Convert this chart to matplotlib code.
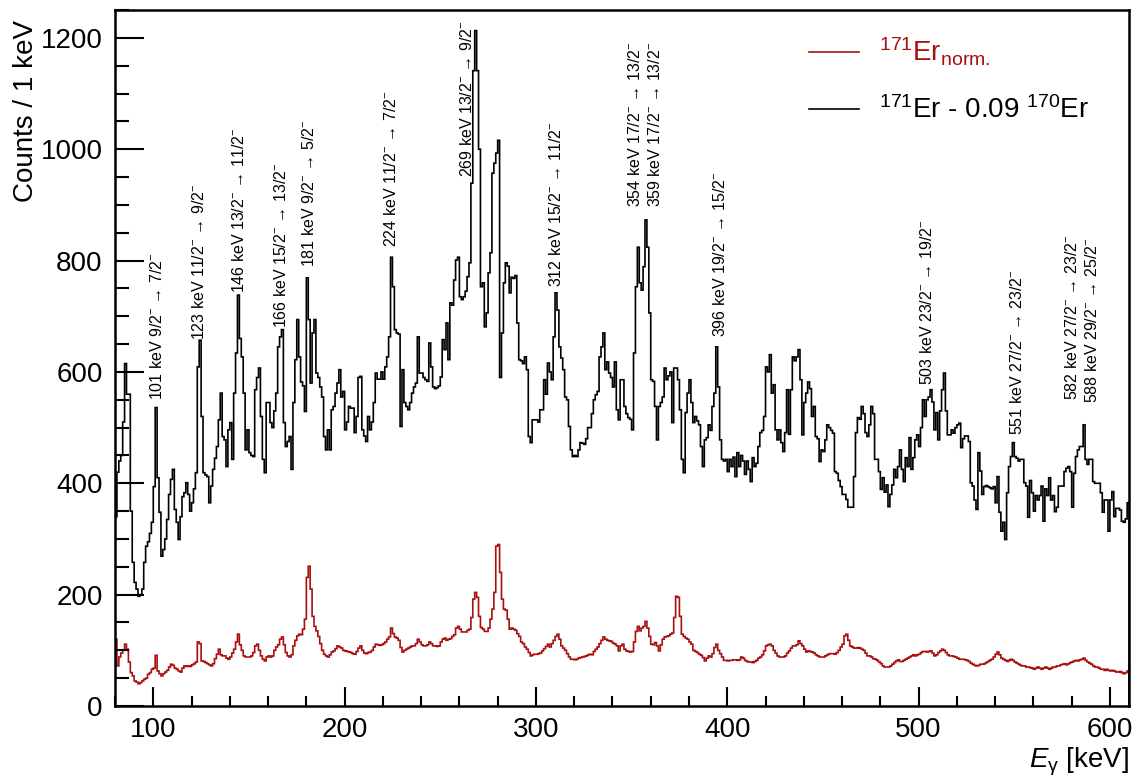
import numpy as np
import matplotlib
matplotlib.use("Agg")
import matplotlib.pyplot as plt
from matplotlib.lines import Line2D
from matplotlib.ticker import MultipleLocator

plt.rcParams['font.family'] = ['Liberation Sans', 'DejaVu Sans']
plt.rcParams['mathtext.fontset'] = 'custom'
plt.rcParams['mathtext.rm'] = 'Liberation Sans'
plt.rcParams['mathtext.it'] = 'Liberation Sans:italic'
plt.rcParams['mathtext.bf'] = 'Liberation Sans:bold'

# 1 keV bins from 80 to 610 keV
e_lo, e_hi = 80, 610
edges = np.arange(e_lo, e_hi + 1)

# 171Er - 0.09 170Er (background subtracted), counts per bin
er171_sub = [
    340, 420, 440, 450, 510, 615, 560, 560, 350, 258,   # 80
    222, 210, 197, 200, 210, 258, 287, 295, 310, 330,   # 90
    394, 536, 410, 348, 269, 281, 300, 335, 380, 407,   # 100
    425, 353, 330, 299, 340, 376, 383, 401, 380, 350,   # 110
    365, 390, 419, 609, 657, 520, 419, 415, 412, 365,   # 120
    395, 425, 445, 466, 514, 562, 484, 478, 430, 496,   # 130
    509, 443, 562, 634, 738, 660, 627, 562, 460, 496,   # 140
    455, 450, 448, 568, 590, 607, 520, 443, 419, 545,   # 150
    545, 509, 500, 530, 562, 645, 663, 676, 509, 466,   # 160
    475, 484, 425, 545, 622, 694, 627, 582, 575, 529,   # 170
    769, 694, 580, 670, 694, 598, 590, 573, 555, 484,   # 180
    460, 496, 460, 532, 538, 562, 580, 604, 555, 565,   # 190
    496, 510, 538, 535, 535, 491, 520, 590, 592, 496,   # 200
    485, 475, 520, 496, 510, 545, 598, 587, 587, 600,   # 210
    587, 609, 627, 663, 806, 753, 676, 670, 668, 502,   # 220
    604, 545, 538, 532, 545, 562, 573, 580, 663, 598,   # 230
    598, 590, 586, 583, 652, 609, 573, 570, 572, 575,   # 240
    591, 658, 640, 688, 622, 724, 720, 765, 801, 806,   # 250
    735, 730, 735, 745, 771, 796, 939, 1141, 1213, 1141,  # 260
    1000, 753, 760, 681, 706, 778, 814, 957, 975, 993,  # 270
    1016, 590, 670, 760, 796, 790, 742, 770, 768, 773,  # 280
    688, 622, 620, 615, 627, 604, 484, 473, 514, 514,   # 290
    514, 510, 532, 532, 586, 560, 616, 600, 586, 663,   # 300
    742, 711, 645, 625, 604, 555, 550, 502, 460, 448,   # 310
    450, 448, 460, 473, 472, 470, 480, 500, 500, 525,   # 320
    550, 559, 565, 627, 645, 670, 604, 618, 598, 590,   # 330
    573, 618, 532, 514, 586, 586, 538, 525, 518, 515,   # 340
    496, 634, 753, 824, 760, 747, 789, 873, 824, 706,   # 350
    586, 583, 538, 478, 538, 545, 555, 607, 586, 593,   # 360
    600, 509, 607, 607, 586, 532, 443, 419, 527, 562,   # 370
    586, 545, 509, 520, 512, 505, 466, 430, 478, 482,   # 380
    505, 495, 538, 562, 645, 573, 478, 443, 440, 443,   # 390
    421, 443, 430, 447, 412, 455, 430, 450, 440, 416,   # 400
    440, 425, 403, 446, 430, 436, 466, 491, 495, 520,   # 410
    609, 600, 631, 562, 577, 496, 478, 496, 473, 457,   # 420
    491, 568, 488, 568, 627, 620, 627, 640, 586, 487,   # 430
    545, 562, 582, 570, 520, 538, 484, 480, 439, 460,   # 440
    457, 478, 505, 500, 495, 490, 421, 418, 405, 394,   # 450
    380, 380, 371, 357, 357, 357, 412, 491, 518, 515,   # 460
    538, 525, 491, 484, 505, 538, 525, 443, 443, 421,   # 470
    389, 410, 384, 397, 358, 380, 397, 425, 410, 430,   # 480
    460, 425, 403, 446, 430, 482, 425, 446, 478, 487,   # 490
    466, 500, 550, 520, 550, 555, 568, 546, 496, 527,   # 500
    478, 530, 568, 598, 530, 487, 487, 496, 490, 500,   # 510
    505, 508, 464, 480, 485, 485, 475, 401, 395, 370,   # 520
    353, 455, 422, 380, 394, 396, 394, 392, 390, 394,   # 530
    365, 412, 348, 314, 330, 299, 383, 430, 448, 473,   # 540
    448, 445, 440, 443, 443, 401, 395, 339, 405, 383,   # 550
    350, 378, 370, 378, 395, 332, 390, 378, 410, 370,   # 560
    378, 349, 357, 395, 395, 395, 421, 427, 430, 421,   # 570
    357, 418, 448, 460, 466, 466, 505, 443, 434, 443,   # 580
    443, 403, 400, 400, 400, 383, 348, 370, 370, 314,   # 590
    370, 385, 340, 355, 355, 352, 332, 330, 336, 365,   # 600
]

# 171Er normalised spectrum, counts per bin
er171_norm = [
    120, 72, 88, 95, 100, 111, 102, 79, 60, 54,         # 80
    45, 43, 40, 42, 45, 48, 50, 57, 60, 66,             # 90
    68, 91, 63, 58, 54, 58, 61, 64, 70, 75,             # 100
    73, 68, 66, 63, 61, 68, 72, 71, 72, 71,             # 110
    74, 76, 79, 115, 112, 81, 80, 78, 76, 74,           # 120
    72, 76, 85, 93, 102, 92, 90, 90, 86, 84,            # 130
    88, 95, 102, 115, 129, 110, 100, 90, 88, 88,        # 140
    88, 90, 96, 108, 111, 100, 90, 84, 81, 88,          # 150
    90, 88, 90, 100, 106, 110, 120, 124, 110, 96,       # 160
    90, 88, 92, 108, 118, 126, 129, 128, 138, 156,      # 170
    231, 251, 210, 161, 143, 135, 125, 112, 100, 93,    # 180
    90, 88, 92, 97, 99, 103, 108, 106, 104, 100,        # 190
    99, 98, 97, 96, 94, 93, 98, 104, 108, 100,          # 200
    95, 94, 96, 97, 100, 106, 111, 110, 109, 110,       # 210
    112, 115, 120, 124, 140, 130, 124, 122, 118, 105,   # 220
    97, 100, 102, 104, 106, 108, 108, 112, 120, 115,    # 230
    110, 108, 108, 110, 115, 112, 108, 108, 107, 108,   # 240
    115, 120, 122, 118, 120, 121, 125, 128, 140, 143,   # 250
    138, 133, 133, 133, 136, 138, 159, 192, 204, 195,   # 260
    161, 141, 138, 134, 134, 140, 156, 174, 204, 287,   # 270
    290, 240, 192, 174, 172, 156, 138, 140, 138, 136,   # 280
    130, 125, 115, 112, 106, 102, 96, 90, 92, 93,       # 290
    93, 94, 95, 99, 103, 107, 111, 106, 112, 118,       # 300
    125, 129, 120, 108, 104, 100, 94, 88, 84, 84,       # 310
    83, 84, 86, 87, 88, 89, 90, 92, 93, 92,             # 320
    98, 102, 106, 112, 118, 124, 120, 118, 117, 116,    # 330
    113, 111, 108, 99, 108, 111, 102, 99, 98, 97,       # 340
    98, 115, 134, 143, 135, 140, 143, 152, 140, 125,    # 350
    111, 110, 114, 108, 99, 110, 120, 124, 125, 126,    # 360
    129, 131, 159, 197, 195, 161, 129, 125, 122, 120,   # 370
    115, 111, 100, 98, 96, 93, 91, 87, 81, 86,          # 380
    90, 88, 94, 105, 111, 100, 94, 88, 82, 82,          # 390
    81, 82, 82, 83, 83, 82, 83, 88, 86, 82,             # 400
    80, 79, 79, 78, 80, 82, 86, 88, 92, 99,             # 410
    108, 110, 111, 108, 100, 95, 90, 88, 88, 88,        # 420
    90, 95, 99, 104, 108, 108, 110, 117, 112, 108,      # 430
    102, 97, 99, 98, 97, 95, 92, 90, 88, 88,            # 440
    88, 90, 92, 94, 94, 94, 93, 96, 100, 106,           # 450
    111, 126, 129, 118, 108, 106, 104, 104, 105, 104,   # 460
    102, 100, 95, 90, 90, 88, 85, 84, 82, 79,           # 470
    76, 72, 70, 70, 70, 72, 75, 78, 81, 83,             # 480
    80, 80, 82, 84, 86, 88, 90, 92, 90, 92,             # 490
    93, 96, 98, 98, 97, 98, 99, 95, 90, 92,             # 500
    96, 99, 102, 100, 96, 92, 90, 90, 89, 88,           # 510
    86, 84, 84, 84, 83, 82, 80, 77, 75, 73,             # 520
    72, 73, 75, 75, 76, 78, 80, 82, 84, 88,             # 530
    93, 97, 92, 86, 84, 82, 80, 82, 84, 82,             # 540
    79, 77, 75, 73, 72, 72, 70, 70, 69, 68,             # 550
    66, 68, 70, 68, 66, 68, 70, 68, 66, 68,             # 560
    70, 70, 72, 72, 74, 75, 76, 74, 76, 78,             # 570
    79, 81, 82, 81, 83, 84, 86, 82, 79, 77,             # 580
    75, 72, 70, 70, 68, 66, 66, 64, 66, 64,             # 590
    63, 64, 63, 61, 61, 62, 60, 58, 60, 63,             # 600
]

# gamma-ray transitions marked on the spectrum
line_energy = [101, 123, 146, 166, 181, 224, 269, 312, 354, 359, 396, 503, 551, 582, 588]
spin_init = ["9/2", "11/2", "13/2", "15/2", "9/2", "11/2", "13/2", "15/2",
             "17/2", "17/2", "19/2", "23/2", "27/2", "27/2", "29/2"]
spin_final = ["7/2", "9/2", "11/2", "13/2", "5/2", "7/2", "9/2", "11/2",
              "13/2", "13/2", "15/2", "19/2", "23/2", "23/2", "25/2"]

# where each rotated label sits (centre x, bottom y)
label_x = [101.9, 124.0, 144.9, 166.6, 181.2, 224.3, 264.2, 310.3,
           351.8, 362.3, 396.0, 504.4, 551.2, 580.0, 590.4]
label_y = [550, 658, 742, 679, 789, 824, 950, 753, 896, 896, 663, 577, 487, 550, 545]

red = '#a81010'

fig = plt.figure(figsize=(11.32, 7.76), dpi=100)
ax = fig.add_axes([0.1016, 0.0902, 0.8958, 0.8969])

ax.stairs(er171_norm, edges, color=red, lw=1.2)
ax.stairs(er171_sub, edges, color='black', lw=1.2)

for e, ji, jf, tx, ty in zip(line_energy, spin_init, spin_final, label_x, label_y):
    txt = f"{e} keV {ji}$^{{-}}$ → {jf}$^{{-}}$"
    ax.text(tx, ty, txt, rotation=90, ha='center', va='bottom', fontsize=11.5)

ax.set_xlim(e_lo, e_hi)
ax.set_ylim(0, 1250)
ax.xaxis.set_major_locator(MultipleLocator(100))
ax.xaxis.set_minor_locator(MultipleLocator(20))
ax.yaxis.set_major_locator(MultipleLocator(200))
ax.yaxis.set_minor_locator(MultipleLocator(50))

for s in ax.spines.values():
    s.set_linewidth(1.8)
ax.tick_params(axis='both', which='both', direction='in', width=1.5, labelsize=20)
ax.tick_params(axis='y', which='major', length=21, pad=9)
ax.tick_params(axis='y', which='minor', length=10)
ax.tick_params(axis='x', which='major', length=14, pad=8)
ax.tick_params(axis='x', which='minor', length=7)

ax.set_ylabel("Counts / 1 keV", fontsize=20, loc='top')
ax.yaxis.set_label_coords(-0.075, 0.985)
ax.set_xlabel(r"$E_{\mathrm{γ}}$ [keV]", fontsize=20, loc='right', labelpad=2)

handles = [Line2D([], [], color=red, lw=1.2), Line2D([], [], color='black', lw=1.2)]
labels = [r"$^{171}$Er$_{\mathrm{norm.}}$", r"$^{171}$Er - 0.09 $^{170}$Er"]
leg = ax.legend(handles, labels, loc='upper left', bbox_to_anchor=(0.66, 0.999),
                frameon=False, fontsize=20, handlelength=1.8, handletextpad=0.7,
                labelspacing=1.03)
leg.get_texts()[0].set_color(red)

fig.savefig('out.png', dpi=100)
